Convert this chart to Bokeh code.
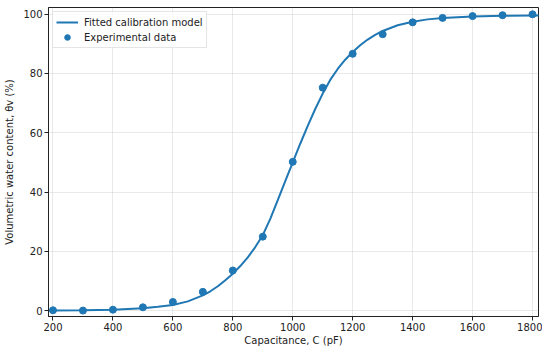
from bokeh.plotting import figure
from bokeh.models import Range1d, FixedTicker, Legend, LegendItem
from bokeh.embed import file_html
from bokeh.resources import INLINE

# Experimental data
cap_pf = [200, 300, 400, 500, 600, 700, 800, 900, 1000, 1100, 1200, 1300, 1400, 1500, 1600, 1700, 1800]
theta_v = [0.2, 0.1, 0.4, 1.2, 3.0, 6.4, 13.6, 25.0, 50.2, 75.2, 86.6, 93.2, 97.2, 98.7, 99.3, 99.6, 99.9]

# Fitted calibration model
fit_x = [180, 200, 300, 400, 500, 550, 600, 650, 700, 725, 750, 775, 800, 825, 850, 875, 900, 925,
         950, 975, 1000, 1025, 1050, 1075, 1100, 1125, 1150, 1175, 1200, 1225, 1250, 1275, 1300,
         1350, 1400, 1450, 1500, 1600, 1700, 1800, 1830]
fit_y = [0.1, 0.1, 0.2, 0.4, 0.9, 1.4, 2.0, 3.2, 5.2, 6.6, 8.3, 10.3, 12.5, 15.1, 18.0, 21.5, 25.5, 31.0,
         37.3, 43.7, 50.0, 56.3, 62.3, 68.0, 73.2, 77.8, 81.5, 84.6, 87.2, 89.5, 91.4, 93.0, 94.3,
         96.2, 97.4, 98.2, 98.7, 99.2, 99.4, 99.5, 99.5]

x_ticks = [200, 400, 600, 800, 1000, 1200, 1400, 1600, 1800]
y_ticks = [0, 20, 40, 60, 80, 100]

BLUE = "#1f77b4"
FONT = "DejaVu Sans"

p = figure(width=542, height=348, output_backend="svg", toolbar_location=None,
           x_range=Range1d(185, 1820), y_range=Range1d(-1.9, 102.2),
           min_border_left=48, min_border_right=4, min_border_top=7, min_border_bottom=0)

p.outline_line_color = "#222222"
p.outline_line_width = 1
p.background_fill_color = "white"
p.border_fill_color = "white"

for ax in (p.xaxis[0], p.yaxis[0]):
    ax.axis_line_color = "#222222"
    ax.major_tick_line_color = "#222222"
    ax.major_tick_out = 4
    ax.major_tick_in = 0
    ax.minor_tick_line_color = None
    ax.major_label_text_font = FONT
    ax.major_label_text_font_size = "10px"
    ax.major_label_text_color = "#222222"
    ax.axis_label_text_font = FONT
    ax.axis_label_text_font_size = "10px"
    ax.axis_label_text_font_style = "normal"
    ax.axis_label_text_color = "#222222"
    ax.major_label_standoff = 2
    ax.axis_label_standoff = 1

p.yaxis[0].axis_label_standoff = 5
p.xaxis[0].ticker = FixedTicker(ticks=x_ticks)
p.yaxis[0].ticker = FixedTicker(ticks=y_ticks)
p.xaxis[0].axis_label = "Capacitance, C (pF)"
p.yaxis[0].axis_label = "Volumetric water content, θv (%)"

p.grid.grid_line_color = "#b0b0b0"
p.grid.grid_line_alpha = 0.35
p.grid.grid_line_width = 0.8

line_r = p.line(fit_x, fit_y, line_color=BLUE, line_width=2)
pts_r = p.scatter(cap_pf, theta_v, size=7, fill_color=BLUE, line_color=BLUE)

legend = Legend(items=[LegendItem(label="Fitted calibration model", renderers=[line_r]),
                       LegendItem(label="Experimental data", renderers=[pts_r])],
                location="top_left")
legend.label_text_font = FONT
legend.label_text_font_size = "10px"
legend.label_text_color = "#222222"
legend.border_line_color = "#cccccc"
legend.border_line_width = 1
legend.background_fill_alpha = 0.8
legend.glyph_width = 22
legend.glyph_height = 14
legend.label_standoff = 6
legend.label_height = 14
legend.spacing = 1
legend.padding = 3
legend.margin = 4
p.add_layout(legend)

open("out.html", "w").write(file_html(p, INLINE))
